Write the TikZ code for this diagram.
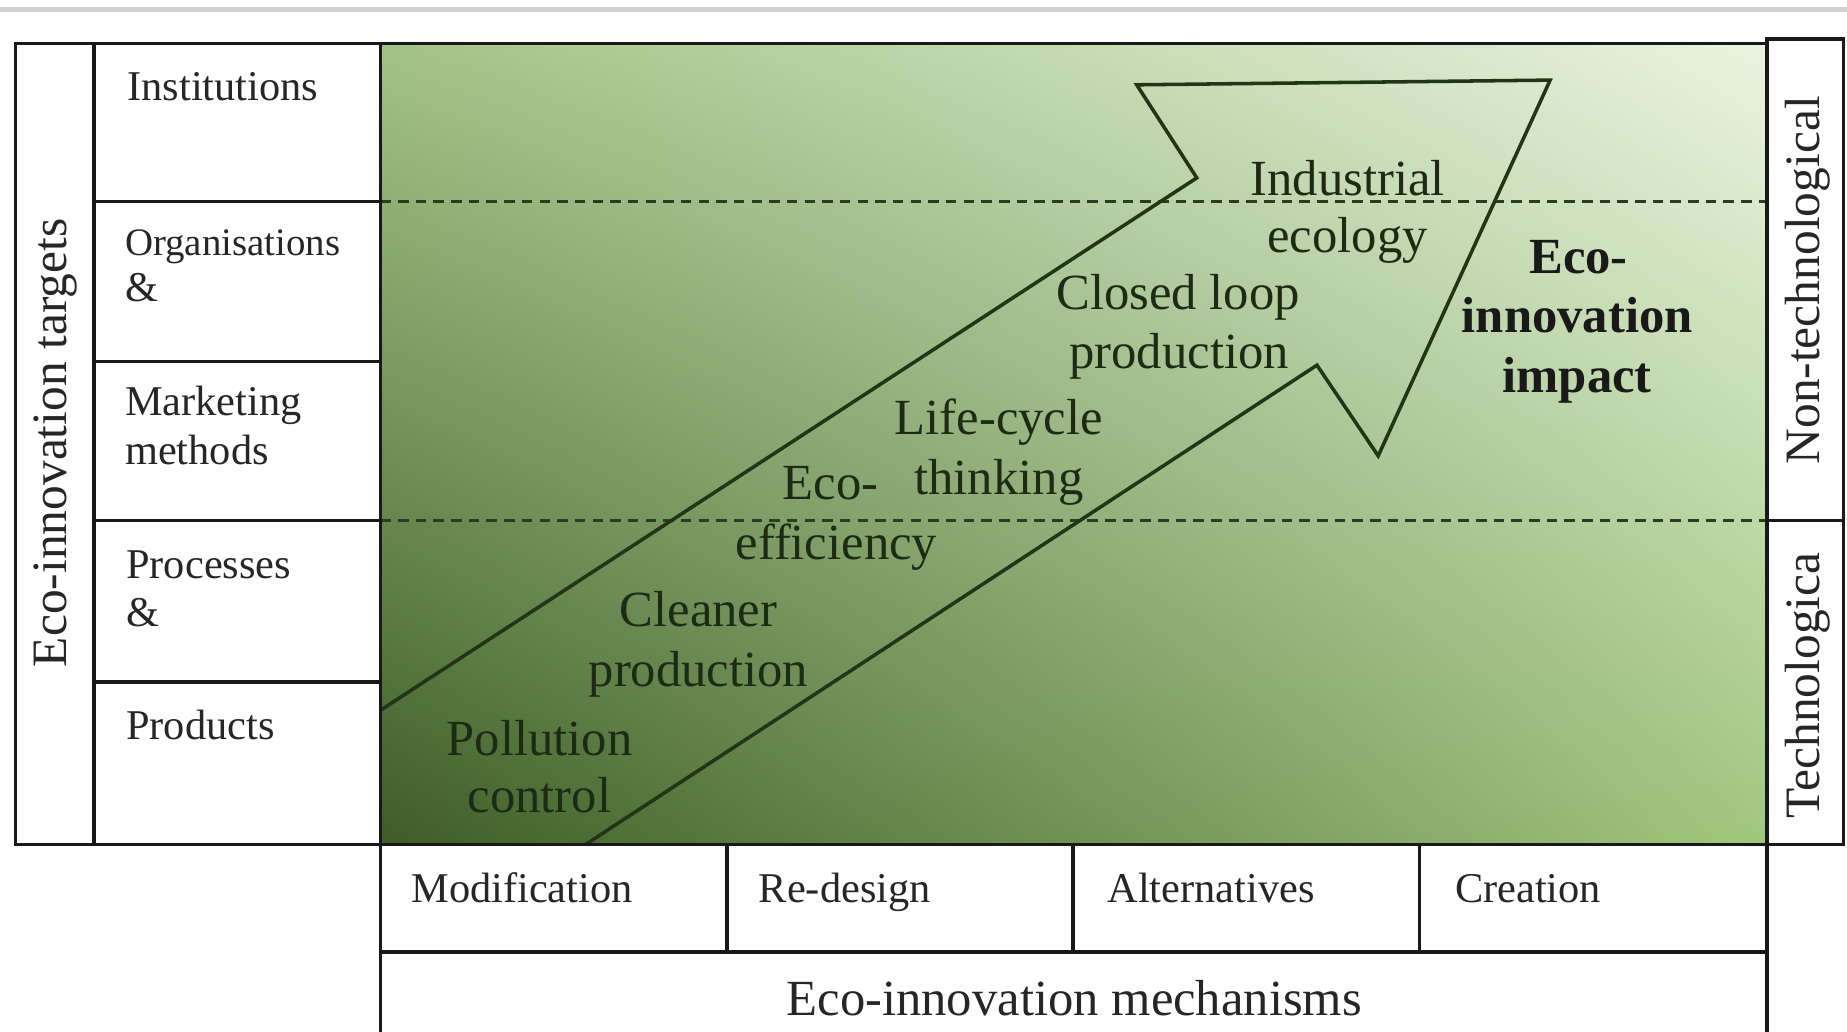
\documentclass[tikz,border=0pt]{standalone}
\usepackage{fontspec}
\setmainfont{Liberation Serif}
\usetikzlibrary{shadings}
\definecolor{gll}{HTML}{3D5C28}
\definecolor{gul}{HTML}{A2C386}
\definecolor{gur}{HTML}{EAF3E1}
\definecolor{glr}{HTML}{A0C77F}
\definecolor{ink}{HTML}{1D2A14}
\definecolor{lineg}{HTML}{223616}
\definecolor{dashg}{HTML}{2A3D20}
\begin{document}
\begin{tikzpicture}[x=1pt,y=-1pt,
  box/.style={draw=black!90, line width=3pt},
  lbl/.style={font=\fontsize{36}{41}\selectfont, text=black!85, anchor=base west, inner sep=0pt},
  botlbl/.style={lbl},
  big/.style={font=\fontsize{43}{51}\selectfont, text=ink, anchor=base, inner sep=0pt},
  bigb/.style={font=\fontsize{43}{51}\selectfont\bfseries, text=black!90, anchor=base, inner sep=0pt},
  side/.style={font=\fontsize{42}{48}\selectfont, text=black!85, rotate=90, inner sep=0pt},
  sepline/.style={dashg, line width=3pt, dash pattern=on 9pt off 6pt},
  arrowline/.style={lineg, line width=3pt, line join=miter}
]
\useasboundingbox (0,0) rectangle (1568,876);
% top grey rule
\draw[black!18, line width=4pt] (0,8) -- (1568,8);
% green field
\shade[shading=bilinear interpolation, lower left=gll, upper left=gul, upper right=gur, lower right=glr] (323,37) rectangle (1500,717);
% dashed separators
\draw[sepline] (323,171) -- (1500,171);
\draw[sepline] (323,442) -- (1500,442);
% arrow
\coordinate (a1) at (323,603);
\coordinate (a2) at (1016,151);
\coordinate (a3) at (965,72);
\coordinate (a4) at (1316,68);
\coordinate (a5) at (1170,387);
\coordinate (a6) at (1118,310);
\coordinate (a7) at (497,717);
\draw[arrowline] (a1) -- (a2) -- (a3) -- (a4) -- (a5) -- (a6) -- (a7);
% left boxes
\draw[box] (13,37) rectangle (80,717);
\draw[box] (80,37) rectangle (323,171);
\draw[box] (80,171) rectangle (323,307);
\draw[box] (80,307) rectangle (323,442);
\draw[box] (80,442) rectangle (323,579);
\draw[box] (80,579) rectangle (323,717);
\draw[box] (323,37) rectangle (1500,717);
% right boxes
\draw[box] (1500,33) rectangle (1565,442);
\draw[box] (1500,442) rectangle (1565,717);
% bottom boxes
\draw[box] (323,717) rectangle (617,808);
\draw[box] (617,717) rectangle (911,808);
\draw[box] (911,717) rectangle (1205,808);
\draw[box] (1205,717) rectangle (1500,808);
\draw[box] (323,880) -- (323,808) -- (1500,808) -- (1500,880);
% left labels
\node[side] (tgt) at (47,376) {Eco-innovation targets};
\node[lbl] (inst) at (108,85) {Institutions};
\node[lbl, font=\fontsize{33}{39}\selectfont] (org) at (106,217) {Organisations};
\node[lbl] (orgamp) at (106,256) {\&};
\node[lbl] (mkt) at (106,353) {Marketing};
\node[lbl] (mkt2) at (106,394) {methods};
\node[lbl] (proc) at (107,491) {Processes};
\node[lbl] (procamp) at (107,532) {\&};
\node[lbl] (prod) at (107,628) {Products};
% right labels
\node[side] (nontech) at (1535,238) {Non-technological};
\node[side, anchor=west] (tech) at (1535,695) {Technologica};
% bottom labels
\node[botlbl] (mod) at (349,766) {Modification};
\node[botlbl] (red) at (644,766) {Re-design};
\node[botlbl] (alt) at (940,766) {Alternatives};
\node[botlbl] (cre) at (1235,766) {Creation};
\node[big, text=black!85] (mech) at (912,862) {Eco-innovation mechanisms};
% labels in the field
\node[big] (ind1) at (1144,166) {Industrial};
\node[big] (ind2) at (1144,214) {ecology};
\node[big] (clo1) at (1000,263) {Closed loop};
\node[big] (clo2) at (1001,313) {production};
\node[big] (lif1) at (848,369) {Life-cycle};
\node[big] (lif2) at (848,420) {thinking};
\node[big] (eff1) at (705,424) {Eco-};
\node[big] (eff2) at (710,475) {efficiency};
\node[big] (cle1) at (593,532) {Cleaner};
\node[big] (cle2) at (593,583) {production};
\node[big] (pol1) at (458,641) {Pollution};
\node[big] (pol2) at (458,690) {control};
\node[bigb] (imp1) at (1340,232) {Eco-};
\node[bigb] (imp2) at (1339,282) {innovation};
\node[bigb] (imp3) at (1339,333) {impact};
\end{tikzpicture}
\end{document}
